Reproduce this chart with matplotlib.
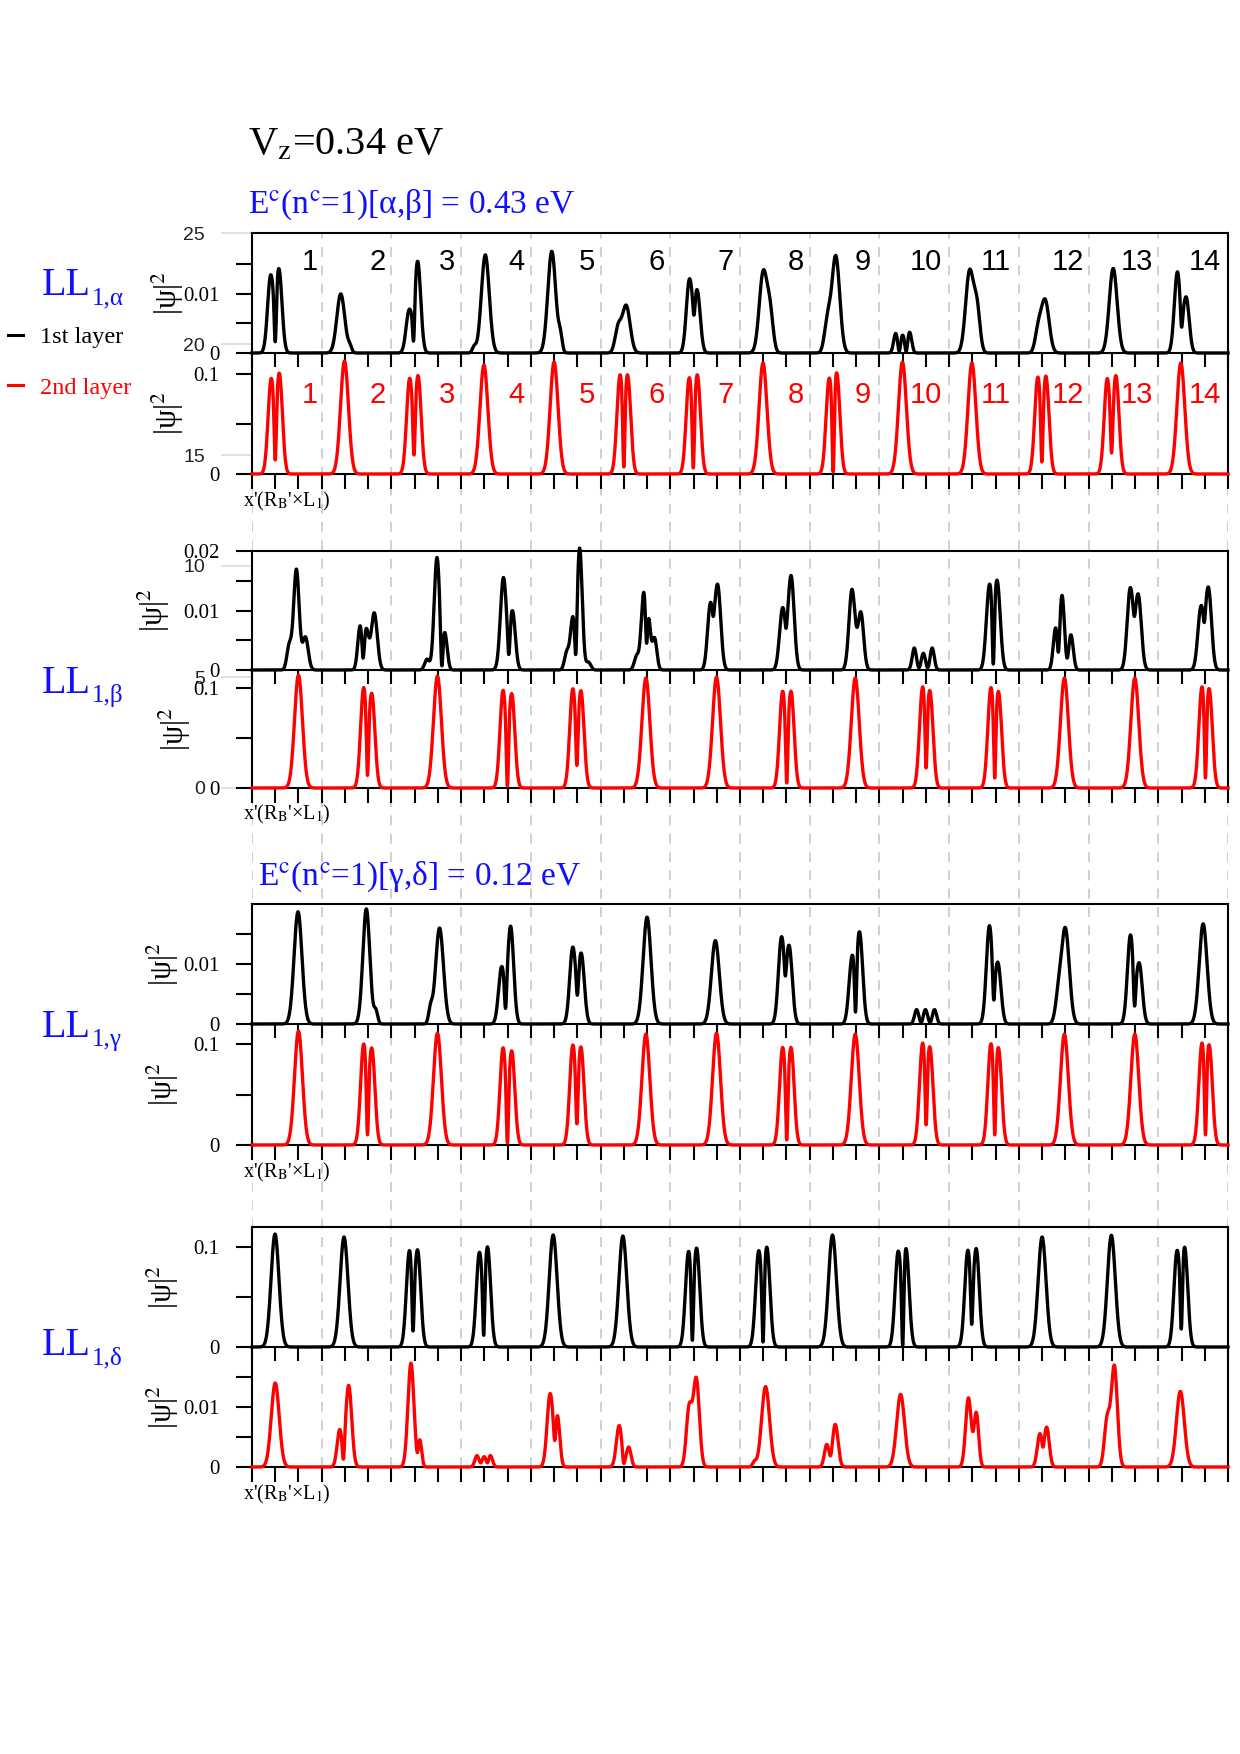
import numpy as np
import matplotlib
matplotlib.use('Agg')
import matplotlib.pyplot as plt
from matplotlib.lines import Line2D

plt.rcParams['font.family'] = ['Liberation Serif', 'DejaVu Serif']
plt.rcParams['mathtext.fontset'] = 'stix'

# peak shapes: (position, height, width)
W = 0.17   # plain single peak
N = 0.13   # one lobe of a split peak

alpha_1st_peaks = [(0.80, 0.0129, N), (1.16, 0.0140, N),
                   (3.82, 0.0100, W), (4.21, 0.0010, 0.08),
                   (6.76, 0.0071, N), (7.13, 0.0154, N),
                   (10.04, 0.0166, W), (9.56, 0.0010, 0.08),
                   (12.90, 0.0172, W), (13.27, 0.0025, 0.08),
                   (16.10, 0.0080, W), (15.75, 0.0040, N),
                   (18.82, 0.0122, N), (19.16, 0.0103, N),
                   (22.00, 0.0136, W), (22.30, 0.0060, N),
                   (25.12, 0.0164, W), (24.76, 0.0050, N),
                   (27.70, 0.0033, 0.09), (28.00, 0.0030, 0.09), (28.30, 0.0035, 0.09),
                   (30.88, 0.0138, W), (31.20, 0.0070, N),
                   (34.13, 0.0089, W), (33.83, 0.0035, N),
                   (37.06, 0.0143, W),
                   (39.82, 0.0136, N), (40.20, 0.0093, N)]
alpha_1st_notches = [(1.00, 0.0019), (6.95, 0.0020), (19.02, 0.0064),
                     (27.85, 0.0003), (28.15, 0.0003), (40.00, 0.0044)]

alpha_2nd_peaks = [(0.82, 0.0933, N), (1.18, 0.0987, N),
                   (3.98, 0.113, W),
                   (6.78, 0.0940, N), (7.15, 0.0967, N),
                   (9.98, 0.109, W),
                   (13.00, 0.112, W),
                   (15.83, 0.0957, N), (16.17, 0.0957, N),
                   (18.81, 0.0940, N), (19.17, 0.0970, N),
                   (21.99, 0.111, W),
                   (24.83, 0.0923, N), (25.17, 0.0980, N),
                   (27.99, 0.112, W),
                   (30.98, 0.111, W),
                   (33.81, 0.0947, N), (34.17, 0.0957, N),
                   (36.80, 0.0940, N), (37.18, 0.0970, N),
                   (39.97, 0.111, W)]
alpha_2nd_notches = [(1.00, 0.014), (6.97, 0.019), (16.00, 0.007), (18.99, 0.006),
                     (25.01, 0.002), (33.99, 0.012), (36.99, 0.021)]

beta_1st_peaks = [(1.91, 0.0169, 0.12), (1.60, 0.0040, 0.10), (2.30, 0.0055, 0.12),
                  (4.65, 0.0073, 0.10), (4.92, 0.0065, 0.10), (5.26, 0.0096, 0.13),
                  (7.96, 0.0189, 0.12), (8.30, 0.0060, 0.10), (7.53, 0.0018, 0.10),
                  (10.82, 0.0155, 0.13), (11.21, 0.0098, 0.12),
                  (14.10, 0.0204, 0.11), (13.80, 0.0084, 0.10), (13.55, 0.0030, 0.10), (14.48, 0.0013, 0.10),
                  (16.86, 0.0130, 0.11), (17.08, 0.0069, 0.08), (17.32, 0.0054, 0.10), (16.55, 0.0023, 0.10),
                  (19.72, 0.0106, 0.12), (20.04, 0.0141, 0.13),
                  (22.83, 0.0102, N), (23.20, 0.0157, N),
                  (25.82, 0.0135, 0.13), (26.20, 0.0096, 0.12),
                  (28.50, 0.0037, 0.09), (28.89, 0.0028, 0.09), (29.27, 0.0037, 0.09),
                  (31.73, 0.0139, N), (32.07, 0.0146, N),
                  (34.86, 0.0124, 0.10), (34.58, 0.0069, 0.10), (35.24, 0.0059, 0.10),
                  (37.79, 0.0135, N), (38.14, 0.0124, N),
                  (40.83, 0.0102, N), (41.16, 0.0135, N)]
beta_1st_notches = [(4.78, 0.0020), (8.17, 0.0007), (11.05, 0.0026), (13.93, 0.0026),
                    (16.98, 0.0045), (19.85, 0.0090), (22.98, 0.0070), (26.05, 0.0080),
                    (28.70, 0.0004), (29.08, 0.0004), (31.90, 0.0010), (34.70, 0.0030),
                    (35.08, 0.0020), (37.97, 0.0090), (40.98, 0.0080)]

beta_2nd_peaks = [(2.00, 0.113, W),
                  (4.80, 0.0983, N), (5.16, 0.0924, N),
                  (7.98, 0.112, W),
                  (10.80, 0.0963, N), (11.18, 0.0930, N),
                  (13.80, 0.0970, N), (14.16, 0.0950, N),
                  (16.95, 0.110, W),
                  (19.99, 0.111, W),
                  (22.83, 0.0950, N), (23.20, 0.0950, N),
                  (25.96, 0.110, W),
                  (28.85, 0.0970, N), (29.18, 0.0930, N),
                  (31.79, 0.0970, N), (32.13, 0.0930, N),
                  (34.96, 0.110, W),
                  (37.99, 0.110, W),
                  (40.87, 0.0970, N), (41.20, 0.0950, N)]
beta_2nd_notches = [(4.97, 0.0126), (10.99, 0.002), (13.98, 0.0226), (23.01, 0.005),
                    (29.01, 0.020), (31.96, 0.010), (41.03, 0.010)]

gamma_1st_peaks = [(1.98, 0.0187, W),
                   (4.92, 0.0192, 0.15), (5.33, 0.0021, 0.08),
                   (8.07, 0.0160, W), (7.68, 0.0023, 0.08),
                   (10.74, 0.0094, N), (11.13, 0.0162, N),
                   (13.80, 0.0126, N), (14.17, 0.0116, N),
                   (17.00, 0.0178, W),
                   (19.94, 0.0139, W),
                   (22.78, 0.0141, N), (23.12, 0.0126, N),
                   (25.82, 0.0108, N), (26.15, 0.0149, N),
                   (28.60, 0.0024, 0.09), (28.98, 0.0024, 0.09), (29.37, 0.0024, 0.09),
                   (31.73, 0.0162, N), (32.10, 0.0100, N),
                   (35.00, 0.0158, W), (34.70, 0.0040, N),
                   (37.80, 0.0147, N), (38.18, 0.0100, N),
                   (40.93, 0.0167, W)]
gamma_1st_notches = [(10.91, 0.0026), (14.00, 0.0048), (22.95, 0.008), (25.97, 0.002),
                     (28.80, 0.0003), (29.18, 0.0003), (31.92, 0.004), (37.98, 0.003)]

gamma_2nd_peaks = [(2.00, 0.113, W),
                   (4.80, 0.0980, N), (5.16, 0.0940, N),
                   (7.98, 0.111, W),
                   (10.80, 0.0950, N), (11.18, 0.0920, N),
                   (13.80, 0.0970, N), (14.16, 0.0950, N),
                   (16.95, 0.110, W),
                   (19.99, 0.111, W),
                   (22.83, 0.0950, N), (23.20, 0.0950, N),
                   (25.96, 0.110, W),
                   (28.85, 0.0970, N), (29.18, 0.0930, N),
                   (31.79, 0.0970, N), (32.13, 0.0930, N),
                   (34.96, 0.110, W),
                   (37.99, 0.110, W),
                   (40.87, 0.0970, N), (41.20, 0.0950, N)]
gamma_2nd_notches = [(4.97, 0.010), (10.99, 0.002), (13.98, 0.021), (23.01, 0.005),
                     (29.01, 0.020), (31.96, 0.010), (41.03, 0.010)]

delta_1st_peaks = [(0.99, 0.113, W),
                   (3.96, 0.110, W),
                   (6.77, 0.0943, N), (7.13, 0.0950, N),
                   (9.78, 0.0923, N), (10.14, 0.0980, N),
                   (12.96, 0.112, W),
                   (15.96, 0.111, W),
                   (18.78, 0.0933, N), (19.14, 0.0967, N),
                   (21.80, 0.0940, N), (22.16, 0.0977, N),
                   (24.98, 0.112, W),
                   (27.80, 0.0930, N), (28.15, 0.0960, N),
                   (30.80, 0.0950, N), (31.17, 0.0967, N),
                   (34.00, 0.110, W),
                   (36.98, 0.1117, W),
                   (39.80, 0.0930, N), (40.14, 0.0967, N)]
delta_1st_notches = [(6.93, 0.016), (9.97, 0.0117), (18.95, 0.0067), (21.99, 0.005),
                     (28.00, 0.0017), (30.97, 0.0227), (39.99, 0.018)]

delta_2nd_peaks = [(1.00, 0.0140, W),
                   (3.77, 0.0061, 0.11), (4.16, 0.0136, 0.13),
                   (6.84, 0.0173, 0.13), (7.22, 0.0044, 0.08),
                   (9.68, 0.0019, 0.09), (9.99, 0.0017, 0.09), (10.26, 0.0019, 0.09),
                   (12.83, 0.0122, 0.13), (13.15, 0.0080, 0.10),
                   (15.80, 0.0069, 0.12), (16.21, 0.0033, 0.10),
                   (19.12, 0.0146, 0.13), (18.81, 0.0097, 0.12),
                   (22.10, 0.0134, W), (21.62, 0.0008, 0.08),
                   (24.73, 0.0037, 0.10), (25.10, 0.0071, 0.12),
                   (27.91, 0.0121, W),
                   (30.83, 0.0115, 0.12), (31.17, 0.0089, 0.10),
                   (33.90, 0.0054, 0.11), (34.20, 0.0065, 0.11),
                   (37.11, 0.0167, 0.13), (36.80, 0.0078, 0.12),
                   (39.95, 0.0126, W)]
delta_2nd_notches = [(3.93, 0.0013), (7.12, 0.0024), (9.84, 0.0007), (10.13, 0.0007),
                     (13.03, 0.0044), (16.00, 0.0006), (24.90, 0.0019), (31.02, 0.0059),
                     (34.04, 0.0033)]

# axis settings per panel: (ymax, tick values, tick labels)
alpha_1st_axis = (0.0203, [0, 0.005, 0.01, 0.015], ['0', '', '0.01', ''])
alpha_2nd_axis = (0.121, [0, 0.05, 0.1], ['0', '', '0.1'])
beta_1st_axis = (0.020, [0, 0.005, 0.01, 0.015, 0.02], ['0', '', '0.01', '', '0.02'])
beta_2nd_axis = (0.118, [0, 0.05, 0.1], ['0', '', '0.1'])
gamma_1st_axis = (0.020, [0, 0.005, 0.01, 0.015], ['0', '', '0.01', ''])
gamma_2nd_axis = (0.120, [0, 0.05, 0.1], ['0', '', '0.1'])
delta_1st_axis = (0.120, [0, 0.05, 0.1], ['0', '', '0.1'])
delta_2nd_axis = (0.020, [0, 0.005, 0.01, 0.015], ['0', '', '0.01', ''])

# numbering of the 14 wells (top group only)
well_labels = [str(i) for i in range(1, 15)]
well_label_x = [2.5, 5.4, 8.4, 11.4, 14.4, 17.4, 20.4, 23.4, 26.3, 29.0, 32.0, 35.1, 38.1, 41.0]

ghost_ticks = [0, 5, 10, 15, 20, 25]

# row names on the left
row_subscripts = ['1,α', '1,β', '1,γ', '1,δ']

XMAX = 42
xs = np.linspace(0, XMAX, 8401)

FW, FH = 1240, 1754
LEFT, RIGHT = 252, 1228
BLUE = '#1010ff'
RED = '#ff0000'


def box(top, bottom, left=LEFT, right=RIGHT):
    return [left / FW, 1 - bottom / FH, (right - left) / FW, (bottom - top) / FH]


def wave(peaks, notches):
    y = np.zeros_like(xs)
    for c, h, s in peaks:
        y += h * np.exp(-0.5 * ((xs - c) / s) ** 2)
    for c, v in notches:
        cur = np.interp(c, xs, y)
        if cur > v:
            y *= 1 - (1 - v / cur) * np.exp(-((xs - c) / 0.06) ** 2)
    return y


fig = plt.figure(figsize=(FW / 100, FH / 100), dpi=100)

# dashed guide lines running through all panels
bg = fig.add_axes(box(233, 1467))
bg.set_xlim(0, XMAX)
bg.set_ylim(0, 1)
bg.axis('off')
for gx in range(0, XMAX + 1, 3):
    bg.axvline(gx, color='#c8c8c8', lw=1.2, ls=(0, (6, 5)), zorder=0)

# leftover scale from the original figure (light grey ticks 0..25)
ghost = fig.add_axes(box(233, 788))
ghost.set_facecolor('none')
ghost.set_ylim(0, 25)
ghost.set_xlim(0, 1)
for sp in ghost.spines.values():
    sp.set_visible(False)
ghost.set_xticks([])
ghost.set_yticks(ghost_ticks)
ghost.set_yticklabels([str(t) for t in ghost_ticks], family=['Liberation Sans', 'DejaVu Sans'],
                      fontsize=14, color='#222222')
ghost.tick_params(axis='y', direction='out', length=22, width=1.3, color='#dddddd', pad=12)


def panel(top, bottom, peaks, notches, axis_cfg, color, is_top, label_x):
    ax = fig.add_axes(box(top, bottom))
    ax.set_facecolor('none')
    ymax, ticks, labels = axis_cfg
    y = wave(peaks, notches)
    ax.plot(xs, y, color=color, lw=2.4, clip_on=False, zorder=3)
    ax.set_xlim(0, XMAX)
    ax.set_ylim(0, ymax)
    ax.set_xticks(range(XMAX + 1))
    ax.set_xticklabels([])
    ax.set_yticks(ticks)
    ax.set_yticklabels(labels, fontsize=15)
    ax.tick_params(axis='x', direction='out', length=10 if is_top else 11, width=1.5)
    ax.tick_params(axis='y', direction='out', length=11.5, width=1.5, pad=12)
    for sp in ax.spines.values():
        sp.set_linewidth(1.5)
    if not is_top:
        ax.spines['top'].set_visible(False)
    ax.set_ylabel(r'|ψ|$^{2}$', fontsize=22, labelpad=0, va='center')
    ax.yaxis.set_label_coords(label_x, 0.5)
    return ax


rows = [
    (233, 353, 474, alpha_1st_peaks, alpha_1st_notches, alpha_1st_axis,
     alpha_2nd_peaks, alpha_2nd_notches, alpha_2nd_axis, -0.086, -0.086),
    (551, 670, 788, beta_1st_peaks, beta_1st_notches, beta_1st_axis,
     beta_2nd_peaks, beta_2nd_notches, beta_2nd_axis, -0.101, -0.079),
    (904, 1024, 1145, gamma_1st_peaks, gamma_1st_notches, gamma_1st_axis,
     gamma_2nd_peaks, gamma_2nd_notches, gamma_2nd_axis, -0.091, -0.091),
    (1227, 1347, 1467, delta_1st_peaks, delta_1st_notches, delta_1st_axis,
     delta_2nd_peaks, delta_2nd_notches, delta_2nd_axis, -0.091, -0.091),
]

for i, (t, m, b, p1, n1, a1, p2, n2, a2, lx1, lx2) in enumerate(rows):
    ax1 = panel(t, m, p1, n1, a1, 'black', True, lx1)
    ax2 = panel(m, b, p2, n2, a2, RED, False, lx2)
    ax2.text(0.036, -0.225, r"x'(R$_{\mathrm{B}}$'×L$_1$)", transform=ax2.transAxes,
             ha='center', va='center', fontsize=14.5)
    if i == 0:
        for lx, lab in zip(well_label_x, well_labels):
            ax1.text(lx, 0.76, lab, transform=ax1.get_xaxis_transform(), ha='center', va='center',
                     fontsize=21, color='black', family=['Liberation Sans', 'DejaVu Sans'])
            ax2.text(lx, 0.65, lab, transform=ax2.get_xaxis_transform(), ha='center', va='center',
                     fontsize=21, color=RED, family=['Liberation Sans', 'DejaVu Sans'])


def ftext(x, y, s, **kw):
    fig.text(x / FW, 1 - y / FH, s, va='baseline', ha='left', **kw)


ftext(248, 155, r'V$_{\mathrm{z}}$=0.34 eV', fontsize=29)
ftext(248, 213, r'E$^{\mathrm{c}}$(n$^{\mathrm{c}}$=1)[α,β] = 0.43 eV', fontsize=24, color=BLUE)
ftext(258, 885, r'E$^{\mathrm{c}}$(n$^{\mathrm{c}}$=1)[γ,δ] = 0.12 eV', fontsize=24, color=BLUE)

# LL labels: big "LL" with a small subscript written next to it
for base, sub in zip([295, 693, 1037, 1355], row_subscripts):
    ftext(42, base, 'LL', fontsize=29, color=BLUE)
    ftext(92, base + 9, sub, fontsize=18, color=BLUE)

# layer legend
fig.add_artist(Line2D([8 / FW, 23 / FW], [1 - 335 / FH] * 2, color='black', lw=2.2))
fig.add_artist(Line2D([8 / FW, 23 / FW], [1 - 385 / FH] * 2, color=RED, lw=2.2))
ftext(40, 343, '1st layer', fontsize=17.5)
ftext(40, 394, '2nd layer', fontsize=17.5, color=RED)

fig.savefig('out.png', dpi=100)
